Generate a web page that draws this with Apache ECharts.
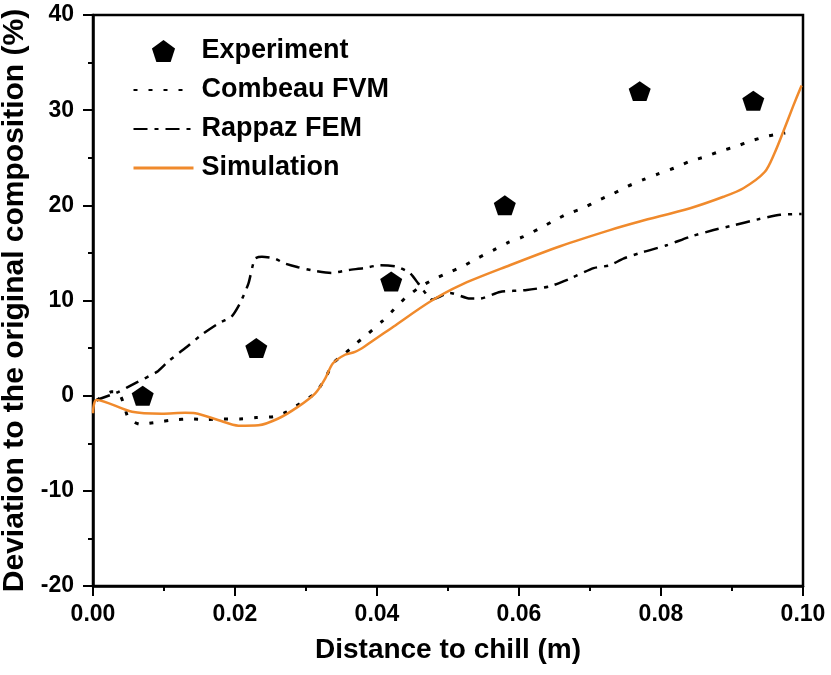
<!DOCTYPE html>
<html>
<head>
<meta charset="utf-8">
<script src="https://cdn.jsdelivr.net/npm/echarts@6/dist/echarts.min.js"></script>
<style>
  html, body { margin: 0; padding: 0; background: #fff; }
  #main { width: 831px; height: 675px; }
</style>
</head>
<body>
<div id="main"></div>
<script>
// experiment points
var expX = [0.007, 0.023, 0.042, 0.058, 0.077, 0.093];
var expY = [0, 5, 12, 20, 32, 31];

// Combeau FVM (dotted)
var fvmX = [0.0005, 0.0026, 0.0035, 0.0043, 0.005, 0.0066, 0.009, 0.0113, 0.0137, 0.016, 0.0184, 0.0207,
  0.023, 0.0254, 0.0273, 0.0296, 0.0313, 0.0327, 0.0338, 0.0355, 0.0371, 0.0388, 0.0407, 0.0423, 0.0439,
  0.0458, 0.0479, 0.05, 0.0521, 0.0543, 0.0564, 0.0585, 0.0606, 0.0627, 0.0647, 0.0668, 0.069, 0.0711,
  0.0732, 0.0753, 0.0775, 0.0796, 0.0818, 0.084, 0.0862, 0.0884, 0.0906, 0.0928, 0.0951, 0.0975];
var fvmY = [-0.5, 0.4, 0.4, -0.8, -2.4, -3.0, -2.8, -2.55, -2.45, -2.5, -2.45, -2.45,
  -2.3, -2.2, -1.7, -0.6, 0.25, 1.8, 3.4, 4.45, 5.5, 6.55, 7.8, 9.0, 10.2,
  11.3, 12.2, 12.9, 13.6, 14.5, 15.3, 16.1, 16.7, 17.5, 18.3, 19.1, 19.7, 20.5,
  21.2, 22.0, 22.7, 23.3, 23.9, 24.6, 25.1, 25.7, 26.2, 26.8, 27.3, 27.6];

// Rappaz FEM (dash-dot)
var femX = [0.0005, 0.0036, 0.0059, 0.009, 0.0106, 0.013, 0.0153, 0.0177, 0.0195, 0.0207, 0.0219, 0.0228,
  0.0238, 0.0256, 0.027, 0.0289, 0.0313, 0.0336, 0.036, 0.0381, 0.0404, 0.0428, 0.0446, 0.0458, 0.0468,
  0.0477, 0.0503, 0.0531, 0.0545, 0.0573, 0.0611, 0.0644, 0.0672, 0.0705, 0.0728, 0.0747, 0.0775, 0.0808,
  0.0841, 0.0874, 0.0902, 0.0935, 0.0968, 0.0998];
var femY = [-0.45, 0.4, 1.3, 2.5, 3.6, 5.0, 6.4, 7.6, 8.3, 9.7, 11.8, 14.4,
  14.6, 14.4, 13.9, 13.5, 13.1, 12.9, 13.2, 13.4, 13.7, 13.55, 12.9, 11.8, 10.8,
  10.1, 10.8, 10.2, 10.2, 10.9, 11.1, 11.5, 12.3, 13.4, 13.7, 14.4, 15.1, 15.8,
  16.7, 17.4, 17.9, 18.5, 19.0, 19.1];

// Simulation (orange)
var simX = [0, 0.0005, 0.0055, 0.0097, 0.013, 0.0144, 0.0176, 0.0205, 0.0233, 0.0261, 0.0289, 0.0313,
  0.0327, 0.0338, 0.0355, 0.0369, 0.0383, 0.0423, 0.0475, 0.0517, 0.0587, 0.0658, 0.0728, 0.077,
  0.0841, 0.0888, 0.0916, 0.0946, 0.096, 0.0972, 0.0986, 0.0998];
var simY = [-1.85, -0.45, -1.7, -1.9, -1.8, -1.85, -2.55, -3.15, -3.1, -2.4, -1.15, 0.25,
  1.8, 3.4, 4.3, 4.6, 5.2, 7.25, 9.9, 11.6, 13.7, 15.7, 17.4, 18.3,
  19.7, 20.9, 21.8, 23.5, 25.5, 27.7, 30.4, 32.6];

var seriesNames = ["Experiment", "Combeau FVM", "Rappaz FEM", "Simulation"];
var xTicks = [0, 0.02, 0.04, 0.06, 0.08, 0.1];
var yTicks = [-20, -10, 0, 10, 20, 30, 40];

function pairs(xs, ys) {
  var out = [];
  for (var i = 0; i < xs.length; i++) {
    out.push([xs[i], ys[i]]);
  }
  return out;
}

var FONT = "Liberation Sans, Arial, sans-serif";
var pentagon = "path://M50,0L100,36.3L80.9,95.1L19.1,95.1L0,36.3Z";
// hide the marker in line legend icons, keep the line
var noMarker = { opacity: 0 };

var chart = echarts.init(document.getElementById("main"));
var option = {
  backgroundColor: "#fff",
  animation: false,
  grid: {
    left: 93,
    right: 28,
    top: 15,
    bottom: 89,
    outerBoundsMode: "none",
    show: true,
    borderColor: "#000",
    borderWidth: 2.5,
  },
  legend: {
    data: [
      { name: seriesNames[0] },
      { name: seriesNames[1], itemStyle: noMarker },
      { name: seriesNames[2], itemStyle: noMarker },
      { name: seriesNames[3], itemStyle: noMarker, lineStyle: { width: 3 } },
    ],
    orient: "vertical",
    left: 127,
    top: 32,
    itemWidth: 60,
    itemHeight: 22,
    itemGap: 11,
    textStyle: {
      fontFamily: FONT,
      fontWeight: "bold",
      fontSize: 27,
      lineHeight: 28,
      color: "#000",
      padding: [0, 0, 0, 3],
    },
  },
  xAxis: {
    type: "value",
    min: xTicks[0],
    max: xTicks[xTicks.length - 1],
    interval: 0.02,
    name: "Distance to chill (m)",
    nameLocation: "middle",
    nameGap: 50,
    nameTextStyle: {
      fontFamily: FONT,
      fontWeight: "bold",
      fontSize: 28,
      color: "#000",
    },
    axisLine: { show: true, onZero: false, lineStyle: { color: "#000", width: 2.5 } },
    axisTick: { show: true, inside: false, length: 10, lineStyle: { color: "#000", width: 2 } },
    minorTick: { show: true, splitNumber: 2, length: 5, lineStyle: { color: "#000", width: 2 } },
    splitLine: { show: false },
    axisLabel: {
      margin: 17,
      fontFamily: FONT,
      fontWeight: "bold",
      fontSize: 23,
      color: "#000",
      formatter: function (v) {
        return v.toFixed(2);
      },
    },
  },
  yAxis: {
    type: "value",
    min: yTicks[0],
    max: yTicks[yTicks.length - 1],
    interval: 10,
    name: "Deviation to the original composition (%)",
    nameLocation: "middle",
    nameGap: 62,
    nameTextStyle: {
      fontFamily: FONT,
      fontWeight: "bold",
      fontSize: 30,
      color: "#000",
    },
    axisLine: { show: true, onZero: false, lineStyle: { color: "#000", width: 2.5 } },
    axisTick: { show: true, inside: false, length: 10, lineStyle: { color: "#000", width: 2 } },
    minorTick: { show: true, splitNumber: 2, length: 5, lineStyle: { color: "#000", width: 2 } },
    splitLine: { show: false },
    axisLabel: {
      margin: 19,
      fontFamily: FONT,
      fontWeight: "bold",
      fontSize: 23,
      color: "#000",
    },
  },
  series: [
    {
      name: seriesNames[0],
      type: "scatter",
      data: pairs(expX, expY),
      symbol: pentagon,
      symbolSize: [22, 21],
      symbolKeepAspect: true,
      itemStyle: { color: "#000", opacity: 1 },
      z: 5,
    },
    {
      name: seriesNames[1],
      type: "line",
      data: pairs(fvmX, fvmY),
      showSymbol: false,
      symbol: "none",
      smooth: 0.2,
      lineStyle: { color: "#000", width: 3, type: [4, 11] },
      itemStyle: { color: "#000" },
    },
    {
      name: seriesNames[2],
      type: "line",
      data: pairs(femX, femY),
      showSymbol: false,
      symbol: "none",
      smooth: 0.2,
      lineStyle: { color: "#000", width: 2.5, type: [14, 7, 4, 7] },
      itemStyle: { color: "#000" },
    },
    {
      name: seriesNames[3],
      type: "line",
      data: pairs(simX, simY),
      showSymbol: false,
      symbol: "none",
      smooth: 0.3,
      lineStyle: { color: "#F08A2C", width: 2.5 },
      itemStyle: { color: "#F08A2C" },
      z: 4,
    },
  ],
};
chart.setOption(option);
</script>
</body>
</html>
